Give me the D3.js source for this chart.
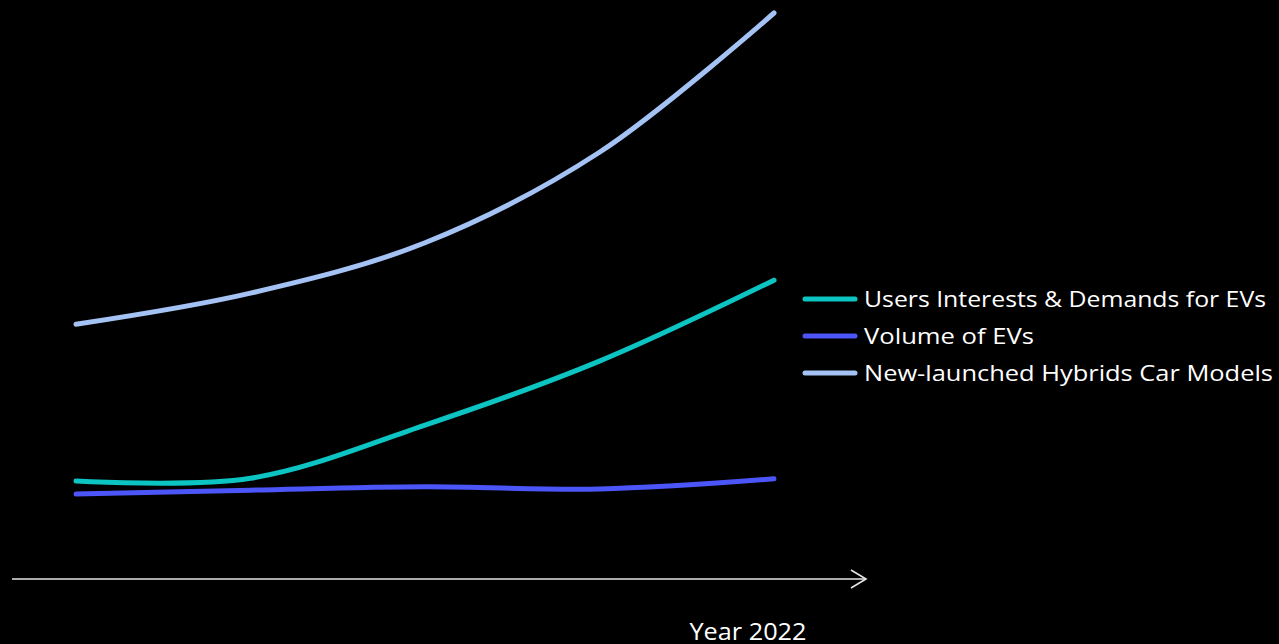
<!DOCTYPE html>
<html>
<head>
<meta charset="utf-8">
<script src="https://cdn.jsdelivr.net/npm/d3@7"></script>
<style>
  html, body { margin: 0; padding: 0; background: #000; }
  svg { display: block; }
</style>
</head>
<body>
<svg id="chart" width="1279" height="644"></svg>
<script>
// Sampling points across the year (unlabelled on the axis)
const periods = ["P1", "P2", "P3", "P4", "P5"];

// Series values (relative index, 0–100)
const demandValues = [17.3, 17.8, 27.2, 38.5, 52.8];
const volumeValues = [15.0, 15.7, 16.3, 15.9, 17.7];
const hybridValues = [45.0, 50.5, 59.4, 75.4, 100];

const seriesNames = [
  "Users Interests & Demands for EVs",
  "Volume of EVs",
  "New-launched Hybrids Car Models"
];
const seriesColors = ["#0CC4C2", "#4B55F8", "#A4C2F4"];
const axisLabel = "Year 2022";

const series = [
  { name: seriesNames[0], values: demandValues, color: seriesColors[0] },
  { name: seriesNames[1], values: volumeValues, color: seriesColors[1] },
  { name: seriesNames[2], values: hybridValues, color: seriesColors[2] }
];

const svg = d3.select("#chart");
svg.append("rect").attr("width", 1279).attr("height", 644).attr("fill", "#000");

const x = d3.scalePoint().domain(periods).range([76, 774]);
const y = d3.scaleLinear().domain([0, 100]).range([579, 13]);

const line = d3.line()
  .x((d, i) => x(periods[i]))
  .y(d => y(d))
  .curve(d3.curveCatmullRom.alpha(0.5));

// Series lines
svg.append("g")
  .selectAll("path")
  .data(series)
  .join("path")
  .attr("d", d => line(d.values))
  .attr("fill", "none")
  .attr("stroke", d => d.color)
  .attr("stroke-width", 5)
  .attr("stroke-linecap", "round")
  .attr("stroke-linejoin", "round");

// Horizontal axis with arrow head
const axisY = y(0);
const axis = svg.append("g").attr("stroke", "#e6e6e6").attr("fill", "none").attr("stroke-width", 1.6);
axis.append("line").attr("x1", 12).attr("x2", 866).attr("y1", axisY).attr("y2", axisY);
axis.append("path").attr("d", `M${851},${axisY - 9} L${866},${axisY} L${851},${axisY + 9}`);

svg.append("text")
  .attr("x", 748)
  .attr("y", 640)
  .attr("text-anchor", "middle")
  .attr("fill", "#ffffff")
  .attr("font-family", "'Open Sans', sans-serif")
  .attr("font-size", 24)
  .attr("textLength", 117)
  .attr("lengthAdjust", "spacingAndGlyphs")
  .text(axisLabel);

// Legend
const legendWidths = [402, 170, 409];
const legend = svg.append("g")
  .selectAll("g")
  .data(series)
  .join("g")
  .attr("transform", (d, i) => `translate(0, ${299 + i * 37})`);

legend.append("line")
  .attr("x1", 805).attr("x2", 855)
  .attr("y1", 0).attr("y2", 0)
  .attr("stroke", d => d.color)
  .attr("stroke-width", 5)
  .attr("stroke-linecap", "round");

legend.append("text")
  .attr("x", 864)
  .attr("y", 8)
  .attr("fill", "#ffffff")
  .attr("font-family", "'Open Sans', sans-serif")
  .attr("font-size", 21)
  .attr("textLength", (d, i) => legendWidths[i])
  .attr("lengthAdjust", "spacingAndGlyphs")
  .text(d => d.name);
</script>
</body>
</html>
